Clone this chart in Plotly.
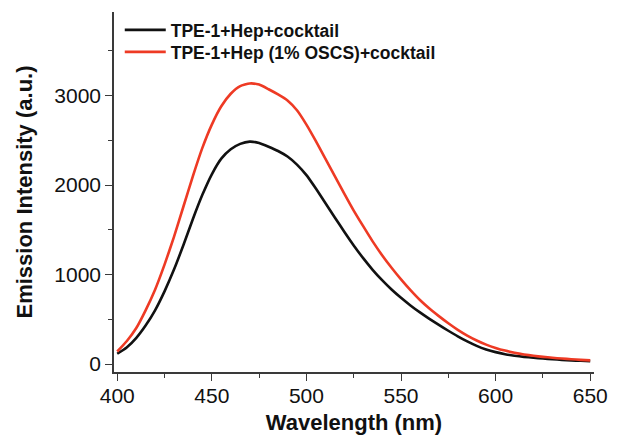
import plotly.graph_objects as go

wavelength = [400, 405, 410, 415, 420, 425, 430, 435, 440, 445, 450, 455, 460, 465,
              470, 475, 480, 485, 490, 495, 500, 505, 510, 515, 520, 525, 530, 535,
              540, 545, 550, 555, 560, 565, 570, 575, 580, 585, 590, 595, 600, 605,
              610, 615, 620, 625, 630, 635, 640, 645, 650]

black_series = [115, 185, 290, 430, 600, 812, 1055, 1330, 1620, 1890, 2120, 2295, 2400, 2460,
                2485, 2470, 2428, 2380, 2318, 2228, 2110, 1960, 1800, 1638, 1478, 1325, 1183, 1053,
                937, 833, 740, 655, 577, 505, 437, 372, 310, 253, 203, 163, 133, 110,
                93, 80, 70, 61, 54, 47, 41, 36, 32]

red_series = [140, 255, 400, 600, 830, 1110, 1420, 1760, 2100, 2415, 2675, 2880, 3020, 3105,
              3135, 3122, 3070, 3012, 2945, 2835, 2675, 2490, 2295, 2100, 1905, 1715, 1540, 1370,
              1215, 1075, 945, 825, 715, 620, 535, 455, 382, 318, 263, 217, 180, 150,
              126, 107, 92, 80, 70, 61, 54, 47, 41]

series_names = ["TPE-1+Hep+cocktail", "TPE-1+Hep (1% OSCS)+cocktail"]
x_ticks = [400, 450, 500, 550, 600, 650]
y_ticks = [0, 1000, 2000, 3000]

FONT = "Liberation Sans, Arial, sans-serif"
AX = "#3a3a3a"
LEGEND_FONT = dict(family=FONT, size=17.5, color="#111111", weight="bold")

fig = go.Figure()
fig.add_trace(go.Scatter(x=wavelength, y=black_series, mode="lines", name=series_names[0],
                         legend="legend",
                         line=dict(color="#111111", width=2.6, shape="spline", smoothing=0.5)))
fig.add_trace(go.Scatter(x=wavelength, y=red_series, mode="lines", name=series_names[1],
                         legend="legend2",
                         line=dict(color="#EE3A24", width=2.6, shape="spline", smoothing=0.5)))

fig.update_layout(
    width=613, height=433,
    margin=dict(l=106, r=27, t=4, b=69),
    paper_bgcolor="white", plot_bgcolor="white",
    font=dict(family=FONT, color="#111111"),
    hovermode=False,
    showlegend=True,
    legend=dict(x=0.012, y=1.0, xanchor="left", yanchor="top",
                bgcolor="rgba(0,0,0,0)", borderwidth=0, itemwidth=41,
                font=LEGEND_FONT),
    legend2=dict(x=0.012, y=0.939, xanchor="left", yanchor="top",
                 bgcolor="rgba(0,0,0,0)", borderwidth=0, itemwidth=41,
                 font=LEGEND_FONT),
    xaxis=dict(range=[398.3, 652], tickvals=x_ticks, ticks="outside", ticklen=7, tickwidth=1.3,
               tickcolor=AX, showline=True, linecolor=AX, linewidth=1.5, mirror=False,
               showgrid=False, zeroline=False, automargin=False, ticklabelstandoff=-3,
               minor=dict(dtick=25, tick0=400, ticks="outside", ticklen=4, tickwidth=1.3, tickcolor=AX),
               tickfont=dict(family=FONT, size=21, color="#111111"),
               title=dict(text="Wavelength (nm)", standoff=9,
                          font=dict(family=FONT, size=22, color="#111111", weight="bold"))),
    yaxis=dict(range=[-89, 3933], tickvals=y_ticks, ticks="outside", ticklen=7, tickwidth=1.3,
               tickcolor=AX, showline=True, linecolor=AX, linewidth=1.5, mirror=False,
               showgrid=False, zeroline=False, automargin=False,
               minor=dict(dtick=500, tick0=0, ticks="outside", ticklen=4, tickwidth=1.3, tickcolor=AX),
               tickfont=dict(family=FONT, size=21, color="#111111"),
               title=dict(text="Emission Intensity (a.u.)", standoff=16,
                          font=dict(family=FONT, size=22, color="#111111", weight="bold"))),
)

fig.write_html("out.html", config={"displayModeBar": False})
